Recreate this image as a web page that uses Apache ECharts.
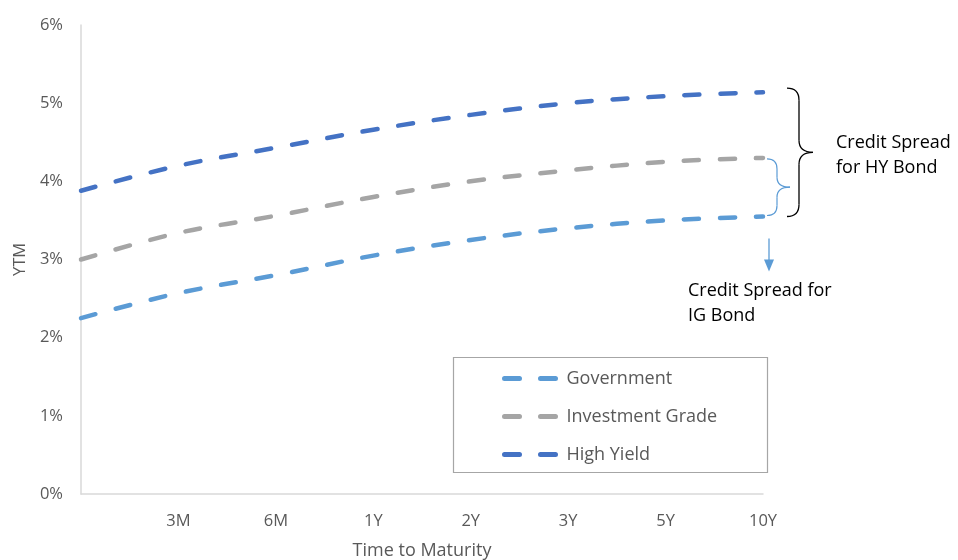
<!DOCTYPE html>
<html>
<head>
<meta charset="utf-8">
<script src="https://cdn.jsdelivr.net/npm/echarts@6/dist/echarts.min.js"></script>
<style>
  html, body { margin: 0; padding: 0; background: #fff; }
  #main { width: 958px; height: 560px; }
</style>
</head>
<body>
<div id="main"></div>
<script>
// maturities (first slot is the short end, unlabeled)
const maturities = ["", "3M", "6M", "1Y", "2Y", "3Y", "5Y", "10Y"];

// yields in %
const government = [2.25, 2.57, 2.8, 3.05, 3.25, 3.4, 3.5, 3.55];
const investmentGrade = [3.0, 3.34, 3.56, 3.8, 4.0, 4.14, 4.25, 4.3];
const highYield = [3.88, 4.2, 4.43, 4.66, 4.85, 5.0, 5.09, 5.14];

const FONT = "'Open Sans', sans-serif";
const TXT = "#595959";

const dashIcon = "path://M2.5,0h15a2.5,2.5 0 0 1 0,5h-15a2.5,2.5 0 0 1 0,-5z M38.5,0h15a2.5,2.5 0 0 1 0,5h-15a2.5,2.5 0 0 1 0,-5z";

const mkSeries = (name, data, color) => ({
  name,
  type: "line",
  data,
  smooth: 0.35,
  showSymbol: false,
  symbol: "none",
  color,
  lineStyle: { color, width: 4.5, type: [15, 21], cap: "round" },
  emphasis: { disabled: true }
});

const chart = echarts.init(document.getElementById("main"));
chart.setOption({
  animation: false,
  textStyle: { fontFamily: FONT },
  grid: { left: 81, right: 195, top: 25, bottom: 66, outerBoundsMode: "none", containLabel: false },
  legend: {
    orient: "vertical",
    left: 497,
    top: 363,
    itemWidth: 57,
    itemHeight: 5,
    itemGap: 17,
    icon: dashIcon,
    textStyle: { color: TXT, fontSize: 18, lineHeight: 21, padding: [0, 0, 0, 3], fontFamily: FONT },
    data: ["Government", "Investment Grade", "High Yield"]
  },
  xAxis: {
    type: "category",
    data: maturities,
    boundaryGap: false,
    name: "Time to Maturity",
    nameLocation: "middle",
    nameGap: 48,
    nameTextStyle: { color: TXT, fontSize: 18 },
    axisLine: { lineStyle: { color: "#d9d9d9", width: 1.5 } },
    axisTick: { show: false },
    axisLabel: { color: TXT, fontSize: 16.5, margin: 19, interval: 0 },
    splitLine: { show: false }
  },
  yAxis: {
    type: "value",
    min: 0,
    max: 6,
    interval: 1,
    name: "YTM",
    nameLocation: "middle",
    nameGap: 52,
    nameTextStyle: { color: TXT, fontSize: 16.5 },
    axisLine: { show: true, lineStyle: { color: "#d9d9d9", width: 1.5 } },
    axisTick: { show: false },
    axisLabel: { color: TXT, fontSize: 16.5, margin: 18, formatter: (v) => v + "%" },
    splitLine: { show: false }
  },
  series: [
    mkSeries("Government", government, "#5B9BD5"),
    mkSeries("Investment Grade", investmentGrade, "#A5A5A5"),
    mkSeries("High Yield", highYield, "#4472C4")
  ]
});

// annotations tied to the 10Y end of the curves
const last = maturities.length - 1;
const px = (v) => chart.convertToPixel({ seriesIndex: 0 }, [last, v]);
const [xEnd, yHY] = px(highYield[last]);
const yIG = px(investmentGrade[last])[1];
const yGov = px(government[last])[1];

// curly brace opening to the left, tip pointing right
function brace(x0, x1, xt, top, bot, stroke, lw) {
  const mid = (top + bot) / 2;
  const r = x1 - x0;
  const style = { fill: "none", stroke, lineWidth: lw };
  return [
    { type: "bezierCurve", shape: { x1: x0, y1: top, cpx1: x1, cpy1: top, x2: x1, y2: top + r }, style },
    { type: "line", shape: { x1: x1, y1: top + r, x2: x1, y2: mid - r }, style },
    { type: "bezierCurve", shape: { x1: x1, y1: mid - r, cpx1: x1, cpy1: mid, x2: xt, y2: mid }, style },
    { type: "bezierCurve", shape: { x1: xt, y1: mid, cpx1: x1, cpy1: mid, x2: x1, y2: mid + r }, style },
    { type: "line", shape: { x1: x1, y1: mid + r, x2: x1, y2: bot - r }, style },
    { type: "bezierCurve", shape: { x1: x1, y1: bot - r, cpx1: x1, cpy1: bot, x2: x0, y2: bot }, style }
  ];
}

const annoText = { fill: "#000", fontSize: 18, fontFamily: FONT, lineHeight: 25 };

chart.setOption({
  graphic: [
    {
      type: "rect",
      shape: { x: 453.5, y: 357.5, width: 314, height: 115 },
      style: { fill: "none", stroke: "#a6a6a6", lineWidth: 1.2 },
      z: 1
    },
    { type: "group", children: brace(xEnd + 24, xEnd + 36, xEnd + 50, yHY - 4, yGov, "#000", 1.3) },
    { type: "group", children: brace(xEnd + 4, xEnd + 14, xEnd + 27, yIG + 1, yGov - 1, "#5B9BD5", 1.2) },
    {
      type: "line",
      shape: { x1: xEnd + 6, y1: yGov + 22, x2: xEnd + 6, y2: yGov + 46 },
      style: { stroke: "#5B9BD5", lineWidth: 1.3 }
    },
    {
      type: "polygon",
      shape: { points: [[xEnd + 1, yGov + 43], [xEnd + 11, yGov + 43], [xEnd + 6, yGov + 55]] },
      style: { fill: "#5B9BD5" }
    },
    {
      type: "text",
      x: xEnd + 73,
      y: yHY + 38,
      style: Object.assign({ text: "Credit Spread\nfor HY Bond" }, annoText)
    },
    {
      type: "text",
      x: xEnd - 75,
      y: yGov + 62,
      style: Object.assign({ text: "Credit Spread for\nIG Bond" }, annoText)
    }
  ]
});
</script>
</body>
</html>
